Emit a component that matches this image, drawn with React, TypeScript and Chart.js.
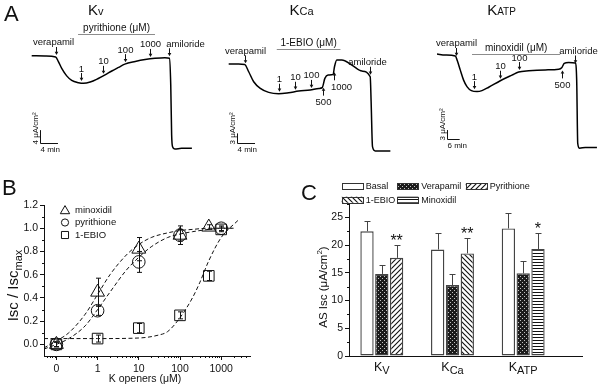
import React, { useEffect, useRef } from 'react';
import { Chart, registerables } from 'chart.js';

Chart.register(...registerables);

const FONT = "'Liberation Sans', Arial, Helvetica, sans-serif";
Chart.defaults.font.family = FONT;
Chart.defaults.color = '#111';

/* ======================= Panel A : Isc traces ======================= */
// time (min) and Isc (µA/cm²)
const kvTime = [0, 2.96, 5.33, 5.93, 6.67, 7.78, 8.89, 10.4, 11.5, 13.0, 14.8, 16.3, 17.8, 19.3, 20.7, 23.0, 25.2, 27.4, 29.6, 30.6, 30.9, 31.1, 31.3, 31.8, 33.3, 35.6];
const kvIsc = [28.4, 28.3, 28.0, 26.6, 24.5, 22.2, 20.8, 20.1, 19.9, 20.3, 21.4, 22.5, 23.7, 24.8, 25.8, 26.6, 27.2, 27.6, 27.8, 27.6, 19.4, 4.0, 0.4, -0.3, -0.1, -0.1];
const kvMarkTime = [5.3, 11.0, 15.9, 20.7, 26.3, 30.5];
const kvMarkLabel = ['verapamil', '1', '10', '100', '1000', 'amiloride'];
const kvMarkBelow = [false, false, false, false, false, false];
const kvDrugLabel = 'pyrithione (\u03bcM)';

const kcaTime = [0, 2.18, 3.49, 4.37, 5.46, 6.9, 8.73, 10.9, 13.1, 15.3, 17.8, 19.7, 20.4, 21.0, 21.7, 22.8, 23.1, 23.6, 24.7, 26.9, 29.1, 30.9, 31.1, 31.4, 32.0, 35.3];
const kcaIsc = [26.1, 26.1, 26.0, 23.8, 20.8, 18.8, 17.6, 17.2, 17.5, 18.0, 18.3, 18.8, 19.0, 21.8, 22.8, 23.0, 25.3, 27.3, 27.3, 25.8, 24.0, 22.3, 14.8, 1.3, 0, 0];
const kcaMarkTime = [3.6, 10.9, 14.4, 18.0, 20.6, 23.0, 30.9];
const kcaMarkLabel = ['verapamil', '1', '10', '100', '500', '1000', 'amiloride'];
const kcaMarkBelow = [false, false, false, false, true, true, false];
const kcaDrugLabel = '1-EBIO (\u03bcM)';

const katpTime = [0, 3.9, 8.7, 9.6, 11.0, 12.6, 14.2, 16.3, 19.0, 21.3, 24.5, 30.0, 35.5, 38.7, 43.5, 51.3, 57.7, 59.2, 60.3, 62.4, 65.5, 66.2, 66.7, 67.6, 70.3, 75.8];
const katpIsc = [30.3, 30.0, 29.7, 28.2, 25.2, 21.9, 19.8, 18.5, 18.2, 18.5, 19.6, 21.7, 23.5, 24.5, 24.9, 25.2, 25.4, 26.0, 27.3, 27.6, 27.4, 21.9, 1.5, -0.1, 0.2, 0.2];
const katpMarkTime = [9.1, 17.7, 30.0, 38.7, 59.2, 65.6];
const katpMarkLabel = ['verapamil', '1', '10', '100', '500', 'amiloride'];
const katpMarkBelow = [false, false, false, false, true, false];
const katpDrugLabel = 'minoxidil (\u03bcM)';

/* ======================= Panel B : dose response ======================= */
const ZERO_AT = 0.1; // where the "0" concentration is plotted on the log axis
const xTickVals = [0.1, 1, 10, 100, 1000];
const xTickLabels = ['0', '1', '10', '100', '1000'];
const yTickValsB = [0, 0.2, 0.4, 0.6, 0.8, 1.0, 1.2];

const minoxConc = [0, 1, 10, 100, 500];
const minoxRatio = [0.0, 0.45, 0.82, 0.94, 1.01];
const minoxErr = [0.02, 0.12, 0.10, 0.08, 0.02];
const pyrConc = [0, 1, 10, 100, 1000];
const pyrRatio = [0.0, 0.29, 0.71, 0.94, 1.0];
const pyrErr = [0.02, 0.04, 0.09, 0.05, 0.02];
const ebioConc = [0, 1, 10, 100, 500, 1000];
const ebioRatio = [0.0, 0.05, 0.14, 0.25, 0.59, 0.99];
const ebioErr = [0.02, 0.03, 0.04, 0.03, 0.04, 0.02];

const fitConc = [0.05, 0.1, 0.2, 0.5, 1, 2, 5, 10, 20, 50, 100, 200, 500, 1000, 2000];
const minoxFit = [-0.03, 0.03, 0.10, 0.26, 0.43, 0.60, 0.77, 0.86, 0.92, 0.96, 0.98, 0.99, 1.0, 1.0, 1.0];
const pyrFit = [-0.04, 0.0, 0.05, 0.16, 0.30, 0.45, 0.64, 0.75, 0.84, 0.92, 0.95, 0.97, 0.99, 1.0, 1.0];
const ebioFitConc = [0.05, 0.1, 1, 10, 30, 50, 100, 200, 300, 500, 1000, 2600];
const ebioFit = [0.05, 0.05, 0.05, 0.055, 0.08, 0.11, 0.23, 0.40, 0.53, 0.72, 0.92, 1.07];
const bLegendNames = ['minoxidil', 'pyrithione', '1-EBIO'];

/* ======================= Panel C : bars ======================= */
const channelSubs = ['V', 'Ca', 'ATP'];
const basalIsc = [22.5, 19.2, 23.0];
const basalErr = [1.9, 2.9, 2.8];
const verapamilIsc = [14.8, 12.8, 14.9];
const verapamilErr = [1.7, 2.0, 2.3];
const openerIsc = [17.7, 18.5, 19.3];
const openerErr = [2.4, 2.7, 2.8];
const openerSig = ['**', '**', '*'];
const cLegendNames = ['Basal', 'Verapamil', 'Pyrithione', '1-EBIO', 'Minoxidil'];
const yTickValsC = [0, 5, 10, 15, 20, 25];

/* ======================= helpers ======================= */
type Seg = { text: string; size: number; dy?: number };

function drawSegs(ctx: CanvasRenderingContext2D, segs: Seg[], x: number, y: number, align: 'left' | 'center') {
  ctx.textAlign = 'left';
  ctx.textBaseline = 'alphabetic';
  let w = 0;
  segs.forEach((s) => { ctx.font = `${s.size}px ${FONT}`; w += ctx.measureText(s.text).width; });
  let cx = align === 'center' ? x - w / 2 : x;
  segs.forEach((s) => {
    ctx.font = `${s.size}px ${FONT}`;
    ctx.fillText(s.text, cx, y + (s.dy || 0));
    cx += ctx.measureText(s.text).width;
  });
}

function interp(xs: number[], ys: number[], t: number) {
  if (t <= xs[0]) return ys[0];
  for (let i = 1; i < xs.length; i++) {
    if (t <= xs[i]) {
      const f = (t - xs[i - 1]) / (xs[i] - xs[i - 1]);
      return ys[i - 1] + f * (ys[i] - ys[i - 1]);
    }
  }
  return ys[ys.length - 1];
}

function arrow(ctx: CanvasRenderingContext2D, x: number, from: number, to: number) {
  const dir = Math.sign(to - from);
  ctx.beginPath();
  ctx.moveTo(x, from);
  ctx.lineTo(x, to - dir * 2.5);
  ctx.stroke();
  ctx.beginPath();
  ctx.moveTo(x - 1.8, to - dir * 3.2);
  ctx.lineTo(x + 1.8, to - dir * 3.2);
  ctx.lineTo(x, to);
  ctx.closePath();
  ctx.fill();
}

function drawMarker(ctx: CanvasRenderingContext2D, style: string, x: number, y: number, r: number) {
  ctx.beginPath();
  if (style === 'triangle') {
    ctx.moveTo(x, y - r);
    ctx.lineTo(x + r * 0.866, y + r / 2);
    ctx.lineTo(x - r * 0.866, y + r / 2);
    ctx.closePath();
  } else if (style === 'circle') {
    ctx.arc(x, y, r, 0, Math.PI * 2);
  } else {
    const h = r * 0.7071;
    ctx.rect(x - h, y - h, 2 * h, 2 * h);
  }
  ctx.stroke();
}

function makePattern(ctx: CanvasRenderingContext2D, kind: string): CanvasPattern {
  const c = document.createElement('canvas');
  const size = kind === 'dots' ? 4 : kind === 'horiz' ? 3 : 5;
  c.width = size;
  c.height = size;
  const g = c.getContext('2d')!;
  if (kind === 'dots') {
    g.fillStyle = '#1c1c1c';
    g.fillRect(0, 0, 4, 4);
    g.fillStyle = '#c4c4c4';
    g.fillRect(0, 0, 1, 1);
    g.fillRect(2, 2, 1, 1);
  } else if (kind === 'horiz') {
    g.fillStyle = '#fff';
    g.fillRect(0, 0, 3, 3);
    g.fillStyle = '#111';
    g.fillRect(0, 0, 3, 1);
  } else {
    g.fillStyle = '#fff';
    g.fillRect(0, 0, 5, 5);
    g.strokeStyle = '#111';
    g.lineWidth = 1.1;
    g.beginPath();
    if (kind === 'fwd') {
      g.moveTo(0, 5); g.lineTo(5, 0);
      g.moveTo(-1, 1); g.lineTo(1, -1);
      g.moveTo(4, 6); g.lineTo(6, 4);
    } else {
      g.moveTo(0, 0); g.lineTo(5, 5);
      g.moveTo(-1, 4); g.lineTo(1, 6);
      g.moveTo(4, -1); g.lineTo(6, 1);
    }
    g.stroke();
  }
  return ctx.createPattern(c, 'repeat')!;
}

/* ======================= Panel A chart ======================= */
type TraceCfg = {
  time: number[]; isc: number[];
  xMin: number; xMax: number; yMin: number; yMax: number;
  markTime: number[]; markLabel: string[]; markBelow: boolean[]; markDx: number[];
  drug: { label: string; t0: number; t1: number; level: number };
  scaleBar: { t0: number; i0: number; dt: number; di: number };
  title: Seg[]; titleX: number; titleY: number; letter?: string;
};

function makeTraceChart(canvas: HTMLCanvasElement, cfg: TraceCfg) {
  const plugin = {
    id: 'traceAnno',
    afterDraw(chart: any) {
      const ctx: CanvasRenderingContext2D = chart.ctx;
      const xs = chart.scales.x;
      const ys = chart.scales.y;
      ctx.save();
      ctx.fillStyle = '#111';
      ctx.strokeStyle = '#111';
      ctx.lineWidth = 1;
      cfg.markTime.forEach((t, i) => {
        const px = Math.round(xs.getPixelForValue(t)) + 0.5;
        const py = ys.getPixelForValue(interp(cfg.time, cfg.isc, t));
        const lx = px + cfg.markDx[i];
        ctx.font = `9.5px ${FONT}`;
        ctx.textAlign = 'center';
        if (cfg.markBelow[i]) {
          arrow(ctx, px, py + 11, py + 3);
          ctx.textBaseline = 'top';
          ctx.fillText(cfg.markLabel[i], lx, py + 13);
        } else {
          arrow(ctx, px, py - 10, py - 2);
          ctx.textBaseline = 'alphabetic';
          ctx.fillText(cfg.markLabel[i], lx, py - 11.5);
        }
      });
      // drug application bar
      const d = cfg.drug;
      const dy = Math.round(ys.getPixelForValue(d.level)) + 0.5;
      const dx0 = xs.getPixelForValue(d.t0);
      const dx1 = xs.getPixelForValue(d.t1);
      ctx.strokeStyle = '#8c8c8c';
      ctx.beginPath();
      ctx.moveTo(dx0, dy);
      ctx.lineTo(dx1, dy);
      ctx.stroke();
      ctx.font = `10px ${FONT}`;
      ctx.textAlign = 'center';
      ctx.textBaseline = 'alphabetic';
      ctx.fillText(d.label, (dx0 + dx1) / 2, dy - 3.5);
      // scale bar
      const sb = cfg.scaleBar;
      const bx = Math.round(xs.getPixelForValue(sb.t0)) + 0.5;
      const by = Math.round(ys.getPixelForValue(sb.i0)) + 0.5;
      const byTop = ys.getPixelForValue(sb.i0 + sb.di);
      const bxEnd = xs.getPixelForValue(sb.t0 + sb.dt);
      ctx.strokeStyle = '#111';
      ctx.beginPath();
      ctx.moveTo(bx, byTop);
      ctx.lineTo(bx, by);
      ctx.lineTo(bxEnd, by);
      ctx.stroke();
      ctx.font = `8px ${FONT}`;
      ctx.textAlign = 'left';
      ctx.textBaseline = 'top';
      ctx.fillText(`${sb.dt} min`, bx, by + 2);
      ctx.save();
      ctx.translate(bx - 4.5, by + 1);
      ctx.rotate(-Math.PI / 2);
      ctx.textBaseline = 'middle';
      ctx.fillText(`${sb.di} \u03bcA/cm\u00b2`, 0, 0);
      ctx.restore();
      // title and panel letter
      drawSegs(ctx, cfg.title, cfg.titleX, cfg.titleY, 'center');
      if (cfg.letter) {
        ctx.font = `22px ${FONT}`;
        ctx.textAlign = 'left';
        ctx.textBaseline = 'alphabetic';
        ctx.fillText(cfg.letter, 4, 21);
      }
      ctx.restore();
    },
  };
  return new Chart(canvas, {
    type: 'line',
    data: {
      datasets: [{
        data: cfg.time.map((t, i) => ({ x: t, y: cfg.isc[i] })),
        borderColor: '#000',
        borderWidth: 1.5,
        pointRadius: 0,
        cubicInterpolationMode: 'monotone',
        fill: false,
      }],
    },
    options: {
      responsive: false,
      animation: false,
      events: [],
      layout: { padding: 0 },
      plugins: { legend: { display: false }, tooltip: { enabled: false } },
      scales: {
        x: { type: 'linear', display: false, min: cfg.xMin, max: cfg.xMax },
        y: { type: 'linear', display: false, min: cfg.yMin, max: cfg.yMax },
      },
    } as any,
    plugins: [plugin],
  });
}

/* ======================= Panel B chart ======================= */
function makeDoseChart(canvas: HTMLCanvasElement) {
  const zx = (c: number) => (c === 0 ? ZERO_AT : c);
  const series = [
    { conc: minoxConc, val: minoxRatio, err: minoxErr },
    { conc: pyrConc, val: pyrRatio, err: pyrErr },
    { conc: ebioConc, val: ebioRatio, err: ebioErr },
  ];
  const minorX: number[] = [];
  for (let e = -2; e <= 3; e++) for (let m = 2; m <= 9; m++) { const v = m * Math.pow(10, e); if (v > 0.05 && v < 5000) minorX.push(v); }
  const minorY = [0.1, 0.3, 0.5, 0.7, 0.9, 1.1];

  const curve = (xa: number[], ya: number[]) => ({
    data: xa.map((x, i) => ({ x, y: ya[i] })),
    showLine: true,
    borderColor: '#111',
    borderWidth: 1,
    borderDash: [4, 2.5],
    pointRadius: 0,
    cubicInterpolationMode: 'monotone',
    order: 5,
  });
  const pts = (conc: number[], val: number[], style: string, r: number, order: number) => ({
    data: conc.map((c, i) => ({ x: zx(c), y: val[i] })),
    showLine: false,
    pointStyle: style,
    pointRadius: r,
    pointBackgroundColor: 'rgba(255,255,255,0)',
    backgroundColor: 'rgba(255,255,255,0)',
    pointBorderColor: '#111',
    borderColor: '#111',
    pointBorderWidth: 1,
    order,
  });

  const plugin = {
    id: 'doseAnno',
    afterDatasetsDraw(chart: any) {
      const ctx: CanvasRenderingContext2D = chart.ctx;
      const xs = chart.scales.x;
      const ys = chart.scales.y;
      ctx.save();
      ctx.strokeStyle = '#111';
      ctx.lineWidth = 1;
      series.forEach((s) => {
        s.conc.forEach((c, i) => {
          const px = Math.round(xs.getPixelForValue(zx(c))) + 0.5;
          const y0 = ys.getPixelForValue(s.val[i] - s.err[i]);
          const y1 = ys.getPixelForValue(s.val[i] + s.err[i]);
          ctx.beginPath();
          ctx.moveTo(px, y0); ctx.lineTo(px, y1);
          ctx.moveTo(px - 2.5, y0); ctx.lineTo(px + 2.5, y0);
          ctx.moveTo(px - 2.5, y1); ctx.lineTo(px + 2.5, y1);
          ctx.stroke();
        });
      });
      ctx.restore();
    },
    afterDraw(chart: any) {
      const ctx: CanvasRenderingContext2D = chart.ctx;
      const xs = chart.scales.x;
      const ys = chart.scales.y;
      const ca = chart.chartArea;
      ctx.save();
      ctx.strokeStyle = '#111';
      ctx.fillStyle = '#111';
      ctx.lineWidth = 1;
      ctx.beginPath();
      minorX.forEach((v) => { const px = Math.round(xs.getPixelForValue(v)) + 0.5; ctx.moveTo(px, ca.bottom); ctx.lineTo(px, ca.bottom + 2); });
      minorY.forEach((v) => { const py = Math.round(ys.getPixelForValue(v)) + 0.5; ctx.moveTo(ca.left, py); ctx.lineTo(ca.left - 2, py); });
      ctx.stroke();
      // legend
      const styles = ['triangle', 'circle', 'rect'];
      const radii = [5.4, 3.6, 5];
      styles.forEach((st, i) => {
        const ly = 50 + i * 12.5;
        drawMarker(ctx, st, 65, ly + (st === 'triangle' ? 1 : 0), radii[i]);
        ctx.font = `9.5px ${FONT}`;
        ctx.textAlign = 'left';
        ctx.textBaseline = 'middle';
        ctx.fillText(bLegendNames[i], 75, ly);
      });
      // axis titles
      drawSegs(ctx, [{ text: 'K openers (\u03bcM)', size: 10.5 }], (ca.left + ca.right) / 2 - 2, 222, 'center');
      ctx.save();
      ctx.translate(12.5, 125.5);
      ctx.rotate(-Math.PI / 2);
      drawSegs(ctx, [{ text: 'Isc / Isc', size: 15 }, { text: 'max', size: 11, dy: 4 }], 0, 5.4, 'center');
      ctx.restore();
      ctx.font = `22px ${FONT}`;
      ctx.textAlign = 'left';
      ctx.textBaseline = 'alphabetic';
      ctx.fillText('B', 2, 35);
      ctx.restore();
    },
  };

  return new Chart(canvas, {
    type: 'scatter',
    data: {
      datasets: [
        curve(fitConc, minoxFit),
        curve(fitConc, pyrFit),
        curve(ebioFitConc, ebioFit),
        pts(pyrConc, pyrRatio, 'circle', 6.3, 3),
        pts(minoxConc, minoxRatio, 'triangle', 8, 2),
        pts(ebioConc, ebioRatio, 'rect', 7.5, 1),
      ],
    } as any,
    options: {
      responsive: false,
      animation: false,
      events: [],
      layout: { padding: { top: 45, right: 50, left: 0, bottom: 0 } },
      plugins: { legend: { display: false }, tooltip: { enabled: false } },
      scales: {
        x: {
          type: 'logarithmic',
          min: 0.05,
          max: 5000,
          afterBuildTicks: (s: any) => { s.ticks = xTickVals.map((v) => ({ value: v })); },
          afterFit: (s: any) => { s.height = 31; },
          ticks: {
            callback: (v: any) => { const i = xTickVals.indexOf(Number(v)); return i >= 0 ? xTickLabels[i] : ''; },
            font: { size: 10.5 }, color: '#111', padding: 3, maxRotation: 0, autoSkip: false,
          },
          grid: { drawOnChartArea: false, tickLength: 4, tickColor: '#111', tickWidth: 1 },
          border: { color: '#111', width: 1 },
        },
        y: {
          type: 'linear',
          min: -0.1,
          max: 1.2,
          afterBuildTicks: (s: any) => { s.ticks = yTickValsB.map((v) => ({ value: v })); },
          afterFit: (s: any) => { s.width = 44; },
          ticks: { callback: (v: any) => Number(v).toFixed(1), font: { size: 10.5 }, color: '#111', padding: 2 },
          grid: { drawOnChartArea: false, tickLength: 4, tickColor: '#111', tickWidth: 1 },
          border: { color: '#111', width: 1 },
        },
      },
    } as any,
    plugins: [plugin],
  });
}

/* ======================= Panel C chart ======================= */
function makeBarChart(canvas: HTMLCanvasElement) {
  const ctx0 = canvas.getContext('2d')!;
  const dots = makePattern(ctx0, 'dots');
  const fwd = makePattern(ctx0, 'fwd');
  const back = makePattern(ctx0, 'back');
  const horiz = makePattern(ctx0, 'horiz');
  const legendFills: (string | CanvasPattern)[] = ['#fff', dots, fwd, back, horiz];
  const sets = [
    { val: basalIsc, err: basalErr },
    { val: verapamilIsc, err: verapamilErr },
    { val: openerIsc, err: openerErr },
  ];
  const common = { borderColor: '#444', borderWidth: 1.4, borderSkipped: false, categoryPercentage: 0.755, barPercentage: 0.9 };

  const plugin = {
    id: 'barAnno',
    afterDatasetsDraw(chart: any) {
      const ctx: CanvasRenderingContext2D = chart.ctx;
      const ys = chart.scales.y;
      ctx.save();
      ctx.strokeStyle = '#444';
      ctx.fillStyle = '#111';
      ctx.lineWidth = 1;
      sets.forEach((s, di) => {
        const meta = chart.getDatasetMeta(di);
        meta.data.forEach((bar: any, j: number) => {
          const x = Math.round(bar.x) + 0.5;
          const top = ys.getPixelForValue(s.val[j]);
          const cap = Math.round(ys.getPixelForValue(s.val[j] + s.err[j])) + 0.5;
          ctx.beginPath();
          ctx.moveTo(x, top); ctx.lineTo(x, cap);
          ctx.moveTo(x - 3, cap); ctx.lineTo(x + 3, cap);
          ctx.stroke();
          if (di === 2) {
            ctx.font = `16px ${FONT}`;
            ctx.textAlign = 'center';
            ctx.textBaseline = 'alphabetic';
            ctx.fillText(openerSig[j], bar.x, cap);
          }
        });
      });
      ctx.restore();
    },
    afterDraw(chart: any) {
      const ctx: CanvasRenderingContext2D = chart.ctx;
      const xs = chart.scales.x;
      const ys = chart.scales.y;
      const ca = chart.chartArea;
      ctx.save();
      ctx.strokeStyle = '#111';
      ctx.fillStyle = '#111';
      ctx.lineWidth = 1;
      ctx.beginPath();
      [2.5, 7.5, 12.5, 17.5, 22.5, 27.5].forEach((v) => {
        const py = Math.round(ys.getPixelForValue(v)) + 0.5;
        ctx.moveTo(ca.left, py); ctx.lineTo(ca.left - 2, py);
      });
      ctx.stroke();
      // category labels with subscripts
      channelSubs.forEach((sub, i) => {
        drawSegs(ctx, [{ text: 'K', size: 12.5 }, { text: sub, size: 11, dy: 3.5 }], xs.getPixelForValue(i + 1), 210.5, 'center');
      });
      // y title
      ctx.save();
      ctx.translate(22.5, 127);
      ctx.rotate(-Math.PI / 2);
      drawSegs(ctx, [{ text: 'AS Isc (\u03bcA/cm', size: 11.5 }, { text: '2', size: 8, dy: -4.5 }, { text: ')', size: 11.5 }], 0, 4.2, 'center');
      ctx.restore();
      // legend (3 columns x 2 rows)
      const colX = [41.7, 97.3, 165.7];
      const rowY = [23.3, 36.7];
      cLegendNames.forEach((name, i) => {
        const bx = colX[i % 3];
        const by = rowY[Math.floor(i / 3)];
        ctx.fillStyle = legendFills[i] as any;
        ctx.fillRect(bx, by, 21, 6);
        ctx.strokeStyle = '#333';
        ctx.strokeRect(Math.round(bx) + 0.5, Math.round(by) + 0.5, 21, 6);
        ctx.fillStyle = '#111';
        ctx.font = `9px ${FONT}`;
        ctx.textAlign = 'left';
        ctx.textBaseline = 'middle';
        ctx.fillText(name, bx + 24, by + 3.5);
      });
      ctx.font = `22px ${FONT}`;
      ctx.textAlign = 'left';
      ctx.textBaseline = 'alphabetic';
      ctx.fillText('C', 1, 40);
      ctx.restore();
    },
  };

  return new Chart(canvas, {
    type: 'bar',
    data: {
      datasets: [
        { label: 'Basal', data: basalIsc.map((v, i) => ({ x: i + 1, y: v })), backgroundColor: '#fff', ...common },
        { label: 'Verapamil', data: verapamilIsc.map((v, i) => ({ x: i + 1, y: v })), backgroundColor: dots, ...common },
        { label: 'K opener', data: openerIsc.map((v, i) => ({ x: i + 1, y: v })), backgroundColor: [fwd, back, horiz], ...common },
      ],
    } as any,
    options: {
      responsive: false,
      animation: false,
      events: [],
      layout: { padding: { top: 43.5, right: 18, left: 0, bottom: 0 } },
      plugins: { legend: { display: false }, tooltip: { enabled: false } },
      scales: {
        x: {
          type: 'linear',
          min: 0.536,
          max: 3.832,
          offset: false,
          afterFit: (s: any) => { s.height = 31; },
          ticks: { display: false },
          grid: { display: false },
          border: { display: true, color: '#111', width: 1 },
        },
        y: {
          type: 'linear',
          min: 0,
          max: 27.5,
          afterBuildTicks: (s: any) => { s.ticks = yTickValsC.map((v) => ({ value: v })); },
          afterFit: (s: any) => { s.width = 49; },
          ticks: { font: { size: 10.5 }, color: '#111', padding: 2 },
          grid: { drawOnChartArea: false, tickLength: 4, tickColor: '#111', tickWidth: 1 },
          border: { color: '#111', width: 1 },
        },
      },
    } as any,
    plugins: [plugin],
  });
}

/* ======================= configs ======================= */
const kvCfg: TraceCfg = {
  time: kvTime, isc: kvIsc, xMin: -7.044, xMax: 126.29, yMin: -3.69, yMax: 45.54,
  markTime: kvMarkTime, markLabel: kvMarkLabel, markBelow: kvMarkBelow, markDx: [-3, 0, 0, 0, 0, 16],
  drug: { label: kvDrugLabel, t0: 10.3, t1: 27.4, level: 35.1 },
  scaleBar: { t0: 1.84, i0: 1.5, dt: 4, di: 4 },
  title: [{ text: 'K', size: 15 }, { text: 'v', size: 11 }], titleX: 95.7, titleY: 15, letter: 'A',
};
const kcaCfg: TraceCfg = {
  time: kcaTime, isc: kcaIsc, xMin: -49.93, xMax: 81.07, yMin: -2.70, yMax: 45.35,
  markTime: kcaMarkTime, markLabel: kcaMarkLabel, markBelow: kcaMarkBelow, markDx: [0, 0, 0, 0, 0, 7, -3],
  drug: { label: kcaDrugLabel, t0: 10.5, t1: 24.4, level: 30.5 },
  scaleBar: { t0: 1.75, i0: 2.3, dt: 4, di: 3 },
  title: [{ text: 'K', size: 15 }, { text: 'Ca', size: 11 }], titleX: 301.5, titleY: 15,
};
const katpCfg: TraceCfg = {
  time: katpTime, isc: katpIsc, xMin: -207.11, xMax: 77.25, yMin: -3.87, yMax: 47.74,
  markTime: katpMarkTime, markLabel: katpMarkLabel, markBelow: katpMarkBelow, markDx: [0, 0, 0, 0, 0, 3],
  drug: { label: katpDrugLabel, t0: 16.6, t1: 58.4, level: 30.3 },
  scaleBar: { t0: 4.74, i0: 2.8, dt: 6, di: 3 },
  title: [{ text: 'K', size: 15 }, { text: 'ATP', size: 10 }], titleX: 501.5, titleY: 15,
};

export default function App() {
  const kvRef = useRef<HTMLCanvasElement>(null);
  const kcaRef = useRef<HTMLCanvasElement>(null);
  const katpRef = useRef<HTMLCanvasElement>(null);
  const bRef = useRef<HTMLCanvasElement>(null);
  const cRef = useRef<HTMLCanvasElement>(null);

  useEffect(() => {
    const charts = [
      makeTraceChart(kvRef.current!, kvCfg),
      makeTraceChart(kcaRef.current!, kcaCfg),
      makeTraceChart(katpRef.current!, katpCfg),
      makeDoseChart(bRef.current!),
      makeBarChart(cRef.current!),
    ];
    return () => charts.forEach((c) => c.destroy());
  }, []);

  const abs = (l: number, t: number, w: number, h: number): React.CSSProperties => ({
    position: 'absolute', left: l, top: t, width: w, height: h,
  });

  return (
    <div style={{ position: 'fixed', left: 0, top: 0, width: 600, height: 387, background: '#fff', overflow: 'hidden' }}>
      <canvas ref={kvRef} width={600} height={160} style={abs(0, 0, 600, 160)} />
      <canvas ref={kcaRef} width={600} height={160} style={abs(0, 0, 600, 160)} />
      <canvas ref={katpRef} width={600} height={160} style={abs(0, 0, 600, 160)} />
      <canvas ref={bRef} width={300} height={227} style={abs(0, 160, 300, 227)} />
      <canvas ref={cRef} width={300} height={227} style={abs(300, 160, 300, 227)} />
    </div>
  );
}
